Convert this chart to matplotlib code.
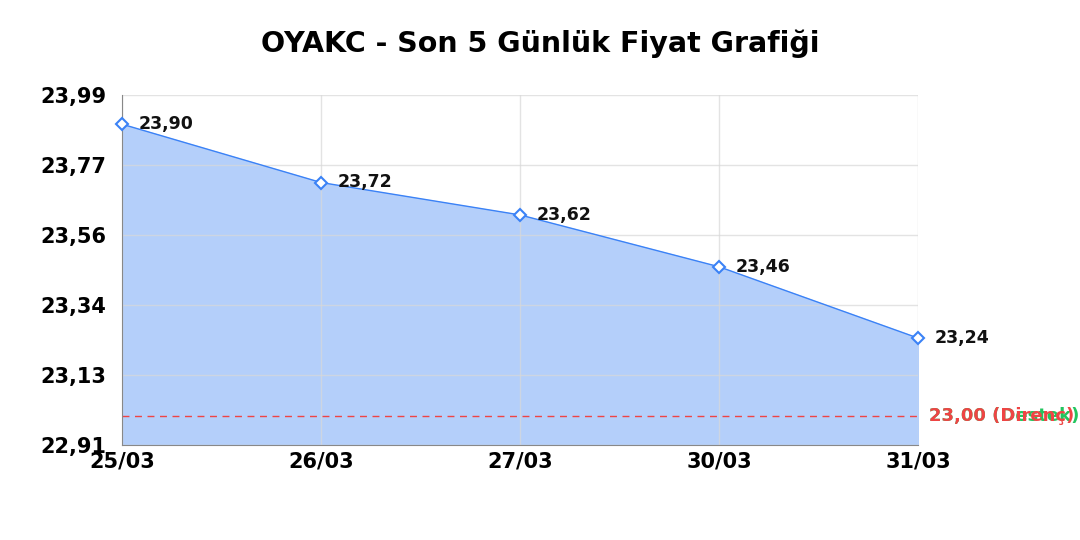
import numpy as np
import matplotlib.pyplot as plt

plt.rcParams["font.family"] = ["DejaVu Sans"]

dates = ["25/03", "26/03", "27/03", "30/03", "31/03"]
prices = [23.90, 23.72, 23.62, 23.46, 23.24]
support = 23.00
resistance = 23.00
y_min, y_max = 22.91, 23.99

fig = plt.figure(figsize=(10.8, 5.4), dpi=100)
ax = fig.add_axes([122 / 1080, 1 - 445 / 540, (918 - 122) / 1080, (445 - 95) / 540])

x = np.arange(len(dates))
ax.fill_between(x, prices, y_min, color="#b4cffa", zorder=1)
ax.plot(x, prices, color="#3b82f6", lw=1, zorder=3)
ax.plot(x, prices, ls="none", marker="D", ms=6, mfc="white", mec="#3b82f6", mew=1.5, zorder=4, clip_on=False)

for xi, p in zip(x, prices):
    ax.annotate(f"{p:.2f}".replace(".", ","), (xi, p), xytext=(12, 0), textcoords="offset points",
                fontsize=12.5, fontweight="bold", color="#111111", va="center", ha="left", zorder=5)

ax.axhline(support, color="#ef4444", ls=(0, (5, 4)), lw=1, zorder=2)
ax.text(1.014, support, f"{support:.2f} (Destek)".replace(".", ","), transform=ax.get_yaxis_transform(),
        color="#22c55e", fontsize=13, fontweight="bold", va="center", ha="left")
ax.text(1.014, resistance, f"{resistance:.2f} (Direnç)".replace(".", ","), transform=ax.get_yaxis_transform(),
        color="#ef4444", fontsize=13, fontweight="bold", va="center", ha="left")

ax.set_xlim(0, len(dates) - 1)
ax.set_ylim(y_min, y_max)
yt = np.linspace(y_min, y_max, 6)
ax.set_yticks(yt)
ax.set_yticklabels([f"{v:.2f}".replace(".", ",") for v in yt], fontsize=15, fontweight="bold")
ax.set_xticks(x)
ax.set_xticklabels(dates, fontsize=15, fontweight="bold")
ax.tick_params(axis="y", length=0, pad=11)
ax.tick_params(axis="x", length=0, pad=5)
ax.grid(True, color="#d8d8d8", lw=1, alpha=0.7, zorder=2)
for s in ["top", "right"]:
    ax.spines[s].set_visible(False)
ax.spines["left"].set_color("#888888")
ax.spines["bottom"].set_color("#888888")

fig.text(0.5, 1 - 44 / 540, "OYAKC - Son 5 Günlük Fiyat Grafiği", ha="center", va="center",
         fontsize=20.5, fontweight="bold")

fig.savefig("out.png", dpi=100)
